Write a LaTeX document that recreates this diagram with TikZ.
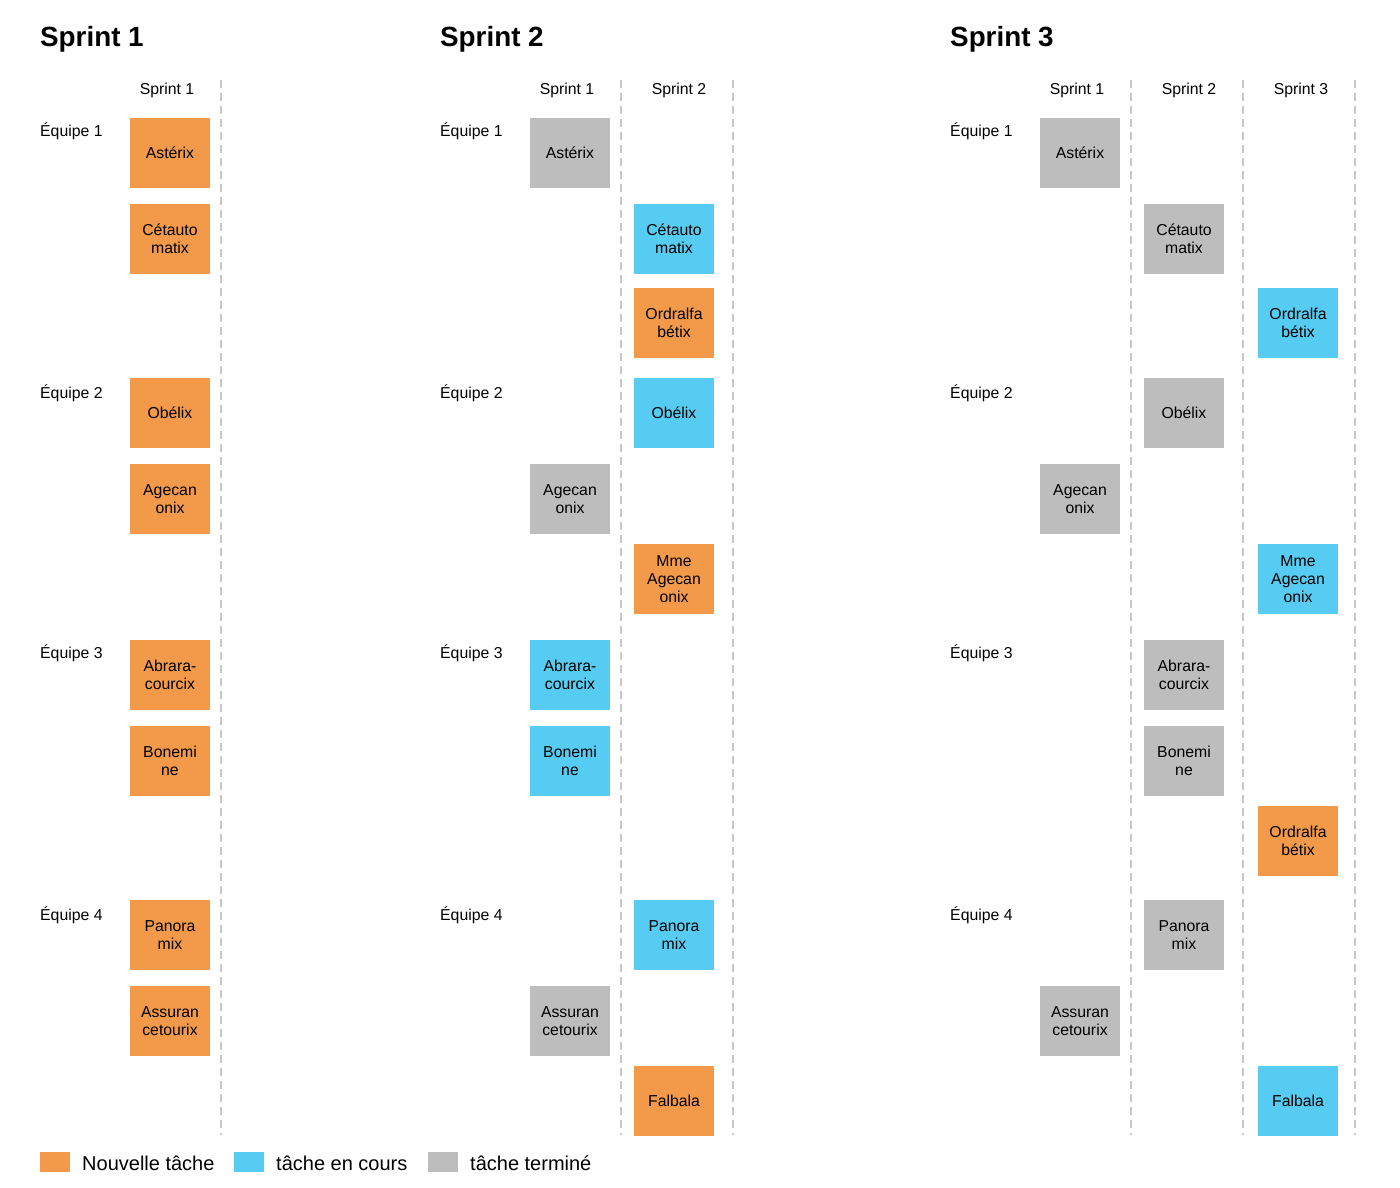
\documentclass[tikz,border=0pt]{standalone}
\usepackage{fontspec}
\setmainfont{Liberation Sans}
\definecolor{cOrange}{RGB}{242,153,74}
\definecolor{cBlue}{RGB}{86,204,242}
\definecolor{cGray}{RGB}{189,189,189}
\definecolor{cDash}{RGB}{200,200,200}
\begin{document}
\begin{tikzpicture}[x=1pt,y=-1pt,
  task/.style={minimum width=80pt, minimum height=70pt, inner sep=0pt, align=center, font=\fontsize{15.8}{18}\selectfont},
  neu/.style={task, fill=cOrange},
  enc/.style={task, fill=cBlue},
  fin/.style={task, fill=cGray},
  sep/.style={draw=cDash, line width=2pt, dash pattern=on 8pt off 5pt},
  title/.style={anchor=base west, inner sep=0pt, font=\fontsize{27.8}{30}\selectfont\bfseries},
  colhead/.style={anchor=base, inner sep=0pt, font=\fontsize{15.8}{18}\selectfont},
  team/.style={anchor=base west, inner sep=0pt, font=\fontsize{15.8}{18}\selectfont},
  legbox/.style={minimum width=30pt, minimum height=20pt, inner sep=0pt, anchor=west},
  legtext/.style={anchor=west, inner sep=0pt, font=\fontsize{20}{24}\selectfont}
]
\useasboundingbox (0,0) rectangle (1400,1188);
\fill[white] (0,0) rectangle (1400,1188);

% ---------- titles ----------
\node[title] (t1) at (40,47) {Sprint 1};
\node[title] (t2) at (440,47) {Sprint 2};
\node[title] (t3) at (950,47) {Sprint 3};

% ---------- column headers ----------
\node[colhead] (h11) at (167,94.5) {Sprint 1};
\node[colhead] (h21) at (567,94.5) {Sprint 1};
\node[colhead] (h22) at (679,94.5) {Sprint 2};
\node[colhead] (h31) at (1077,94.5) {Sprint 1};
\node[colhead] (h32) at (1189,94.5) {Sprint 2};
\node[colhead] (h33) at (1301,94.5) {Sprint 3};

% ---------- team labels ----------
\foreach \px/\p in {40/1,440/2,950/3}{
  \node[team] (e1p\p) at (\px,136) {Équipe 1};
  \node[team] (e2p\p) at (\px,398) {Équipe 2};
  \node[team] (e3p\p) at (\px,658) {Équipe 3};
  \node[team] (e4p\p) at (\px,920) {Équipe 4};
}

% ---------- dashed separators ----------
\foreach \dx/\n in {221/a,621/b,733/c,1131/d,1243/e,1355/f}{
  \coordinate (top\n) at (\dx,80);
  \coordinate (bot\n) at (\dx,1135);
  \draw[sep] (top\n) -- (bot\n);
}

% ---------- panel 1 ----------
\node[neu] (a1) at (170,153) {Astérix};
\node[neu] (a2) at (170,239) {Cétauto\\matix};
\node[neu] (a4) at (170,413) {Obélix};
\node[neu] (a5) at (170,499) {Agecan\\onix};
\node[neu] (a7) at (170,675) {Abrara-\\courcix};
\node[neu] (a8) at (170,761) {Bonemi\\ne};
\node[neu] (a10) at (170,935) {Panora\\mix};
\node[neu] (a11) at (170,1021) {Assuran\\cetourix};

% ---------- panel 2 ----------
\node[fin] (b1) at (570,153) {Astérix};
\node[enc] (b2) at (674,239) {Cétauto\\matix};
\node[neu] (b3) at (674,323) {Ordralfa\\bétix};
\node[enc] (b4) at (674,413) {Obélix};
\node[fin] (b5) at (570,499) {Agecan\\onix};
\node[neu] (b6) at (674,579) {Mme\\Agecan\\onix};
\node[enc] (b7) at (570,675) {Abrara-\\courcix};
\node[enc] (b8) at (570,761) {Bonemi\\ne};
\node[enc] (b10) at (674,935) {Panora\\mix};
\node[fin] (b11) at (570,1021) {Assuran\\cetourix};
\node[neu] (b12) at (674,1101) {Falbala};

% ---------- panel 3 ----------
\node[fin] (c1) at (1080,153) {Astérix};
\node[fin] (c2) at (1184,239) {Cétauto\\matix};
\node[enc] (c3) at (1298,323) {Ordralfa\\bétix};
\node[fin] (c4) at (1184,413) {Obélix};
\node[fin] (c5) at (1080,499) {Agecan\\onix};
\node[enc] (c6) at (1298,579) {Mme\\Agecan\\onix};
\node[fin] (c7) at (1184,675) {Abrara-\\courcix};
\node[fin] (c8) at (1184,761) {Bonemi\\ne};
\node[neu] (c9) at (1298,841) {Ordralfa\\bétix};
\node[fin] (c10) at (1184,935) {Panora\\mix};
\node[fin] (c11) at (1080,1021) {Assuran\\cetourix};
\node[enc] (c12) at (1298,1101) {Falbala};

% ---------- legend ----------
\node[legbox, fill=cOrange] (l1) at (40,1162) {};
\node[legtext] (lt1) at (82,1163) {Nouvelle tâche};
\node[legbox, fill=cBlue] (l2) at (234,1162) {};
\node[legtext] (lt2) at (276,1163) {tâche en cours};
\node[legbox, fill=cGray] (l3) at (428,1162) {};
\node[legtext] (lt3) at (470,1163) {tâche terminé};
\end{tikzpicture}
\end{document}
